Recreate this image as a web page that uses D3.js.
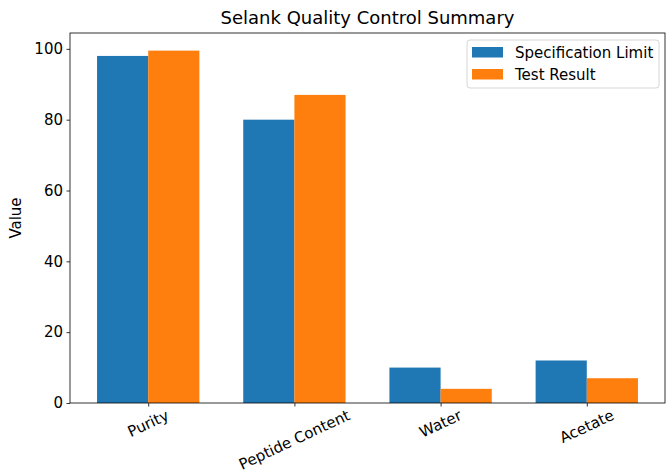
<!DOCTYPE html>
<html>
<head>
<meta charset="utf-8">
<script src="https://cdn.jsdelivr.net/npm/d3@7"></script>
<style>
  body { margin: 0; background: #fff; }
  svg { font-family: "DejaVu Sans", sans-serif; }
</style>
</head>
<body>
<svg id="chart" width="666" height="474"></svg>
<script>
const categories = ['Purity', 'Peptide Content', 'Water', 'Acetate'];
const specLimit = [98, 80, 10, 12];
const testResult = [99.5, 87, 4, 7];
const seriesNames = ['Specification Limit', 'Test Result'];
const yTicks = [0, 20, 40, 60, 80, 100];

const colors = ['#1f77b4', '#ff7f0e'];
const width = 666, height = 474;
const margin = { top: 33, right: 1, bottom: 71, left: 70 };
const barW = 0.35;
const fs = 15;

const svg = d3.select('#chart');

const x = d3.scaleLinear()
  .domain([-0.535, categories.length - 1 + 0.535])
  .range([margin.left, width - margin.right]);
const y = d3.scaleLinear()
  .domain([0, d3.max(testResult.concat(specLimit)) * 1.05])
  .range([height - margin.bottom, margin.top]);

// bars
const series = [specLimit, testResult];
series.forEach((vals, s) => {
  svg.append('g')
    .selectAll('rect')
    .data(vals)
    .enter().append('rect')
    .attr('x', (d, i) => x(i + (s === 0 ? -barW : 0)))
    .attr('width', x(barW) - x(0))
    .attr('y', d => y(d))
    .attr('height', d => y(0) - y(d))
    .attr('fill', colors[s]);
});

// axes
const yAxis = d3.axisLeft(y).tickValues(yTicks).tickSize(3.5).tickPadding(3.5);
const gy = svg.append('g')
  .attr('transform', `translate(${margin.left},0)`)
  .call(yAxis);
gy.select('.domain').remove();
gy.selectAll('line').attr('stroke', '#000').attr('stroke-width', 0.8);
gy.selectAll('text').attr('font-size', fs).attr('fill', '#000')
  .attr('font-family', '"DejaVu Sans", sans-serif');

const xAxis = d3.axisBottom(x).tickValues(d3.range(categories.length))
  .tickSize(3.5).tickFormat('');
const gx = svg.append('g')
  .attr('transform', `translate(0,${height - margin.bottom})`)
  .call(xAxis);
gx.select('.domain').remove();
gx.selectAll('line').attr('stroke', '#000').attr('stroke-width', 0.8);

// rotated category labels
const ang = 25 * Math.PI / 180;
categories.forEach((c, i) => {
  const t = svg.append('text')
    .attr('font-size', fs)
    .attr('fill', '#000')
    .attr('text-anchor', 'middle')
    .attr('dominant-baseline', 'central')
    .text(c);
  const w = t.node().getComputedTextLength();
  const bh = w * Math.sin(ang) + fs * 0.8 * Math.cos(ang);
  const cy = y(0) + 6 + bh / 2;
  t.attr('transform', `translate(${x(i)},${cy}) rotate(-25)`);
});

// frame
svg.append('rect')
  .attr('x', margin.left).attr('y', margin.top)
  .attr('width', width - margin.right - margin.left)
  .attr('height', height - margin.bottom - margin.top)
  .attr('fill', 'none').attr('stroke', '#000').attr('stroke-width', 0.8);

// title and label
svg.append('text')
  .attr('x', (margin.left + width - margin.right) / 2)
  .attr('y', 24)
  .attr('text-anchor', 'middle')
  .attr('font-size', 18)
  .text('Selank Quality Control Summary');

svg.append('text')
  .attr('transform', `translate(21,${(margin.top + height - margin.bottom) / 2}) rotate(-90)`)
  .attr('text-anchor', 'middle')
  .attr('font-size', fs)
  .text('Value');

// legend
const lg = svg.append('g').attr('transform', 'translate(467,40)');
lg.append('rect')
  .attr('width', 192).attr('height', 48)
  .attr('rx', 3)
  .attr('fill', '#fff').attr('fill-opacity', 0.8)
  .attr('stroke', '#d6d6d6').attr('stroke-width', 1);
seriesNames.forEach((n, i) => {
  lg.append('rect')
    .attr('x', 5).attr('y', 7 + i * 22)
    .attr('width', 31).attr('height', 10.5)
    .attr('fill', colors[i]);
  lg.append('text')
    .attr('x', 48).attr('y', 12.5 + i * 22)
    .attr('dominant-baseline', 'central')
    .attr('font-size', fs)
    .text(n);
});
</script>
</body>
</html>
